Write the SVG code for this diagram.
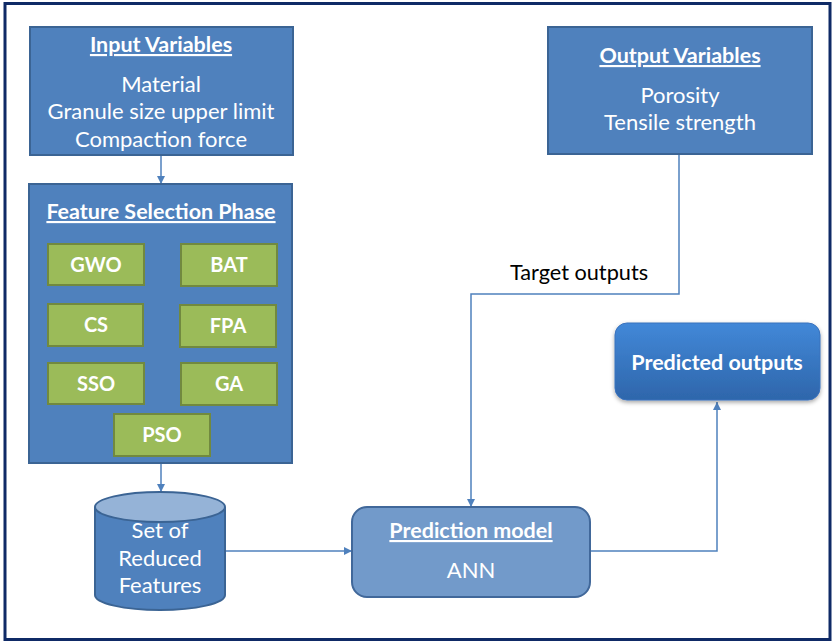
<svg xmlns="http://www.w3.org/2000/svg" width="835" height="643" viewBox="0 0 835 643">
<defs>
<style>
.box{fill:#4f81bd;stroke:#3b6494;stroke-width:2}
.grn{fill:#9bbb59;stroke:#71893f;stroke-width:2}
.t{font-family:Lato,"Liberation Sans",sans-serif;fill:#fff;text-anchor:middle;font-size:22px}
.b{font-weight:bold;font-size:21.5px}
.g{font-weight:bold;font-size:20px}
.u{text-decoration:underline}
.c{fill:none;stroke:#4f81bd;stroke-width:1.5}
</style>
<marker id="ah" viewBox="0 0 10 10" refX="10" refY="5" markerWidth="8" markerHeight="8" markerUnits="userSpaceOnUse" orient="auto">
<path d="M0,0 L10,5 L0,10 z" fill="#4f81bd"/>
</marker>
<linearGradient id="pg" x1="0" y1="0" x2="0" y2="1">
<stop offset="0" stop-color="#4288d8"/>
<stop offset="1" stop-color="#2e66ab"/>
</linearGradient>
<filter id="sh" x="-10%" y="-10%" width="120%" height="130%">
<feDropShadow dx="0" dy="2" stdDeviation="2" flood-color="#000" flood-opacity="0.35"/>
</filter>
</defs>
<rect x="0" y="0" width="835" height="643" fill="#fff"/>
<rect x="5" y="3.5" width="825" height="636" fill="none" stroke="#0f2a66" stroke-width="3"/>

<g id="connectors">
<line class="c" x1="161" y1="155" x2="161" y2="184" marker-end="url(#ah)"/>
<line class="c" x1="161" y1="463" x2="161" y2="492" marker-end="url(#ah)"/>
<line class="c" x1="225" y1="551" x2="352" y2="551" marker-end="url(#ah)"/>
<polyline class="c" points="679,154 679,294 471,294 471,507" marker-end="url(#ah)"/>
<polyline class="c" points="590,551 717,551 717,402" marker-end="url(#ah)"/>
<text x="579" y="280" font-family="Lato,'Liberation Sans',sans-serif" font-size="21.7" fill="#000" text-anchor="middle">Target outputs</text>
</g>

<g id="input-variables">
<rect class="box" x="30" y="27" width="263" height="128"/>
<text class="t b u" x="161" y="52">Input Variables</text>
<text class="t" x="161" y="92">Material</text>
<text class="t" x="161" y="119">Granule size upper limit</text>
<text class="t" x="161" y="147">Compaction force</text>
</g>

<g id="feature-selection">
<rect class="box" x="29" y="184" width="263" height="279"/>
<text class="t b u" x="161" y="219">Feature Selection Phase</text>
</g>
<g id="gwo"><rect class="grn" x="48" y="244" width="96" height="41"/><text class="t g" x="96" y="272">GWO</text></g>
<g id="bat"><rect class="grn" x="181" y="244" width="96" height="42"/><text class="t g" x="229" y="272">BAT</text></g>
<g id="cs"><rect class="grn" x="48" y="304" width="95" height="42"/><text class="t g" x="96" y="332">CS</text></g>
<g id="fpa"><rect class="grn" x="180" y="305" width="96" height="42"/><text class="t g" x="228" y="333">FPA</text></g>
<g id="sso"><rect class="grn" x="48" y="363" width="96" height="41"/><text class="t g" x="96" y="391">SSO</text></g>
<g id="ga"><rect class="grn" x="181" y="363" width="96" height="42"/><text class="t g" x="229" y="391">GA</text></g>
<g id="pso"><rect class="grn" x="114" y="414" width="96" height="42"/><text class="t g" x="162" y="442">PSO</text></g>

<g id="reduced-features">
<path d="M95,507 L95,595 A65,15 0 0 0 225,595 L225,507" fill="#4f81bd" stroke="#3b6494" stroke-width="2"/>
<ellipse cx="160" cy="507" rx="65" ry="15" fill="#95b3d7" stroke="#3b6494" stroke-width="2"/>
<text class="t" x="160" y="538">Set of</text>
<text class="t" x="160" y="566">Reduced</text>
<text class="t" x="160" y="593">Features</text>
</g>

<g id="prediction-model">
<rect x="352" y="507" width="238" height="90" rx="15" fill="#729aca" stroke="#41689a" stroke-width="2"/>
<text class="t b u" x="471" y="538">Prediction model</text>
<text class="t" x="471" y="578">ANN</text>
</g>

<g id="predicted-outputs">
<rect x="615" y="323" width="205" height="77" rx="12" fill="url(#pg)" stroke="#3a72bd" stroke-width="1" filter="url(#sh)"/>
<text class="t b" x="717" y="370">Predicted outputs</text>
</g>

<g id="output-variables">
<rect class="box" x="548" y="27" width="264" height="127"/>
<text class="t b u" x="680" y="63">Output Variables</text>
<text class="t" x="680" y="103">Porosity</text>
<text class="t" x="680" y="130">Tensile strength</text>
</g>
</svg>
